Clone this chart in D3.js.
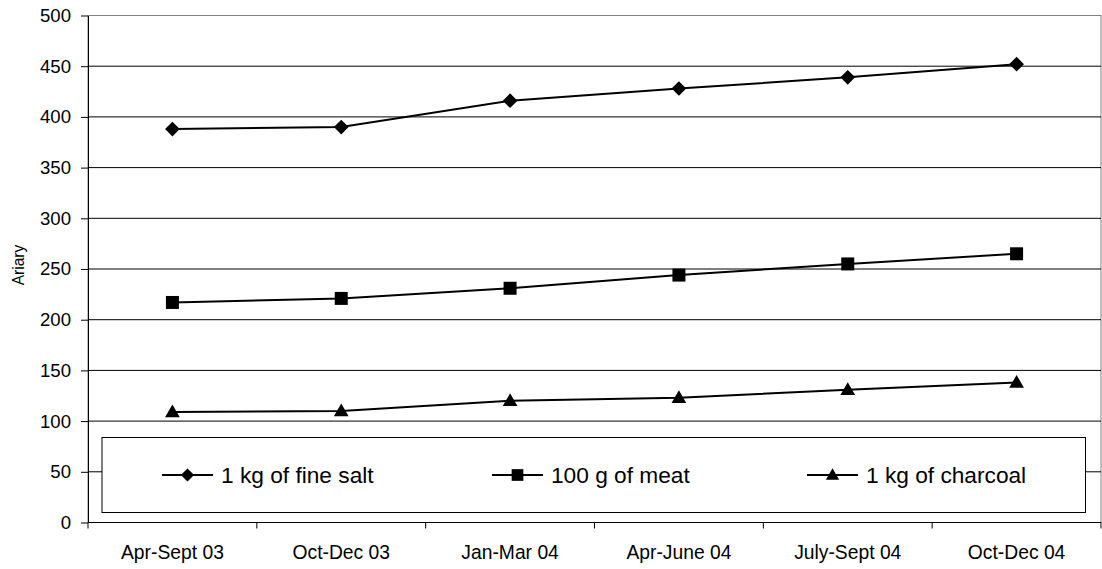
<!DOCTYPE html>
<html>
<head>
<meta charset="utf-8">
<script src="https://cdn.jsdelivr.net/npm/d3@7"></script>
<style>
  html, body { margin: 0; padding: 0; background: #fff; }
  svg { display: block; font-family: "Liberation Sans", Arial, sans-serif; }
</style>
</head>
<body>
<svg id="chart" width="1102" height="569"></svg>
<script>
// Quarterly periods on the x axis
const categories = ["Apr-Sept 03", "Oct-Dec 03", "Jan-Mar 04", "Apr-June 04", "July-Sept 04", "Oct-Dec 04"];

// Prices in Ariary
const saltValues    = [388, 390, 416, 428, 439, 452];
const meatValues    = [217, 221, 231, 244, 255, 265];
const charcoalValues = [109, 110, 120, 123, 131, 138];

const seriesNames = ["1 kg of fine salt", "100 g of meat", "1 kg of charcoal"];
const yTicks = [0, 50, 100, 150, 200, 250, 300, 350, 400, 450, 500];

const series = [
  { name: seriesNames[0], values: saltValues, marker: "diamond" },
  { name: seriesNames[1], values: meatValues, marker: "square" },
  { name: seriesNames[2], values: charcoalValues, marker: "triangle" }
];

const svg = d3.select("#chart");

const plot = { left: 88, right: 1101, top: 15.5, bottom: 522.5 };

const x = d3.scaleBand().domain(categories).range([plot.left, plot.right]).paddingInner(0).paddingOuter(0);
const xc = c => x(c) + x.bandwidth() / 2;
const y = d3.scaleLinear().domain([0, 500]).range([plot.bottom, plot.top]);

// Plot area frame
svg.append("rect")
  .attr("x", plot.left).attr("y", plot.top)
  .attr("width", plot.right - plot.left).attr("height", plot.bottom - plot.top)
  .attr("fill", "#fff").attr("stroke", "#808080").attr("stroke-width", 1);

// Horizontal gridlines
svg.append("g").selectAll("line")
  .data(yTicks.filter(t => t > 0 && t < 500))
  .join("line")
  .attr("x1", plot.left).attr("x2", plot.right)
  .attr("y1", d => y(d)).attr("y2", d => y(d))
  .attr("stroke", "#000").attr("stroke-width", 1);

// Y axis
const yAxis = svg.append("g")
  .attr("transform", `translate(${plot.left},0)`)
  .call(d3.axisLeft(y).tickValues(yTicks).tickSize(7).tickPadding(10).tickSizeOuter(0));
yAxis.select(".domain").attr("stroke", "#000");
yAxis.selectAll(".tick line").attr("stroke", "#000");
yAxis.selectAll("text").attr("font-size", 18.6).attr("fill", "#000")
  .attr("font-family", "'Liberation Sans', Arial, sans-serif");

// X axis: labels centred on each period, ticks on period boundaries
const xAxis = svg.append("g")
  .attr("transform", `translate(0,${plot.bottom})`)
  .call(d3.axisBottom(x).tickSize(0).tickPadding(23).tickSizeOuter(0));
xAxis.select(".domain").remove();
xAxis.selectAll("text").attr("font-size", 19.3).attr("fill", "#000")
  .attr("font-family", "'Liberation Sans', Arial, sans-serif");

svg.append("line")
  .attr("x1", plot.left).attr("x2", plot.right)
  .attr("y1", plot.bottom).attr("y2", plot.bottom)
  .attr("stroke", "#000");

const boundaries = categories.map(c => x(c)).concat([x(categories[categories.length - 1]) + x.bandwidth()]);
svg.append("g").selectAll("line")
  .data(boundaries)
  .join("line")
  .attr("x1", d => d).attr("x2", d => d)
  .attr("y1", plot.bottom).attr("y2", plot.bottom + 6)
  .attr("stroke", "#000");

// Y axis title
svg.append("text")
  .attr("transform", `translate(23.5,265) rotate(-90)`)
  .attr("text-anchor", "middle")
  .attr("font-size", 15.6)
  .attr("fill", "#000")
  .text("Ariary");

// Marker shapes
const markerPath = {
  diamond: d3.symbol().type(d3.symbolSquare).size(108)(),
  square: d3.symbol().type(d3.symbolSquare).size(169)(),
  triangle: d3.symbol().type(d3.symbolTriangle).size(94)()
};
const markerRotate = { diamond: 45, square: 0, triangle: 0 };
const markerDy = { diamond: 0, square: 0, triangle: 1 };

const line = d3.line()
  .x((d, i) => xc(categories[i]))
  .y(d => y(d));

const gSeries = svg.append("g");
series.forEach(s => {
  gSeries.append("path")
    .attr("d", line(s.values))
    .attr("fill", "none")
    .attr("stroke", "#000")
    .attr("stroke-width", 2);
  gSeries.append("g").selectAll("path")
    .data(s.values)
    .join("path")
    .attr("d", markerPath[s.marker])
    .attr("transform", (d, i) => `translate(${xc(categories[i])},${y(d) + markerDy[s.marker]}) rotate(${markerRotate[s.marker]})`)
    .attr("fill", "#000");
});

// Legend
const legend = svg.append("g");
legend.append("rect")
  .attr("x", 102).attr("y", 437.5)
  .attr("width", 983.5).attr("height", 75)
  .attr("fill", "#fff").attr("stroke", "#000").attr("stroke-width", 1);

const legendX = [162, 492, 807];
const legendY = 475;
series.forEach((s, i) => {
  const g = legend.append("g").attr("transform", `translate(${legendX[i]},${legendY})`);
  g.append("line").attr("x1", 0).attr("x2", 51).attr("y1", 0).attr("y2", 0)
    .attr("stroke", "#000").attr("stroke-width", 2);
  g.append("path")
    .attr("d", markerPath[s.marker])
    .attr("transform", `translate(25.5,${markerDy[s.marker]}) rotate(${markerRotate[s.marker]}) scale(0.9)`)
    .attr("fill", "#000");
  g.append("text")
    .attr("x", 59).attr("y", 7.5)
    .attr("font-size", 22.7)
    .attr("fill", "#000")
    .text(s.name);
});
</script>
</body>
</html>
